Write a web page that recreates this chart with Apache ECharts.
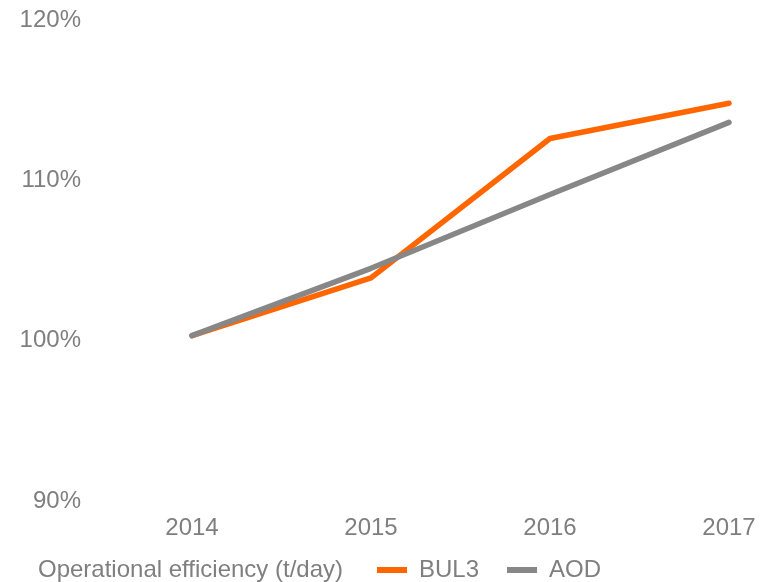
<!DOCTYPE html>
<html>
<head>
<meta charset="utf-8">
<script src="https://cdn.jsdelivr.net/npm/echarts@6/dist/echarts.min.js"></script>
<style>
html, body { margin: 0; padding: 0; background: #fff; }
#chart { width: 775px; height: 582px; }
</style>
</head>
<body>
<div id="chart"></div>
<script>
var years = ['2014', '2015', '2016', '2017'];
var bul3 = [100, 103.6, 112.3, 114.5];
var aod = [100, 104.2, 108.8, 113.3];

var textColor = '#7f7f7f';
var font = '"Liberation Sans", Arial, sans-serif';

var myChart = echarts.init(document.getElementById('chart'));
var option = {
    animation: false,
    color: ['#ff6600', '#878787'],
    title: {
        text: 'Operational efficiency (t/day)',
        left: 33,
        top: 553,
        textStyle: {
            color: textColor,
            fontFamily: font,
            fontSize: 24,
            fontWeight: 'normal'
        }
    },
    legend: {
        left: 372,
        top: 553,
        itemWidth: 30,
        itemHeight: 6,
        itemGap: 28,
        icon: 'rect',
        data: ['BUL3', 'AOD'],
        textStyle: {
            color: textColor,
            fontFamily: font,
            fontSize: 24,
            padding: [0, 0, 0, 7]
        }
    },
    grid: {
        left: 192,
        right: 46,
        top: 15,
        bottom: 86
    },
    xAxis: {
        type: 'category',
        boundaryGap: false,
        data: years,
        axisLine: {show: false},
        axisTick: {show: false},
        axisLabel: {
            margin: 20,
            color: textColor,
            fontFamily: font,
            fontSize: 24
        }
    },
    yAxis: {
        type: 'value',
        min: 90,
        max: 120,
        interval: 10,
        splitLine: {show: false},
        axisLine: {show: false},
        axisTick: {show: false},
        axisLabel: {
            margin: 111,
            verticalAlign: 'top',
            lineHeight: 10,
            color: textColor,
            fontFamily: font,
            fontSize: 24,
            formatter: '{value}%'
        }
    },
    series: [
        {
            name: 'BUL3',
            type: 'line',
            data: bul3,
            symbol: 'none',
            lineStyle: {width: 5.5, cap: 'round', join: 'round'}
        },
        {
            name: 'AOD',
            type: 'line',
            data: aod,
            symbol: 'none',
            lineStyle: {width: 5.5, cap: 'round', join: 'round'}
        }
    ]
};
myChart.setOption(option);
</script>
</body>
</html>
